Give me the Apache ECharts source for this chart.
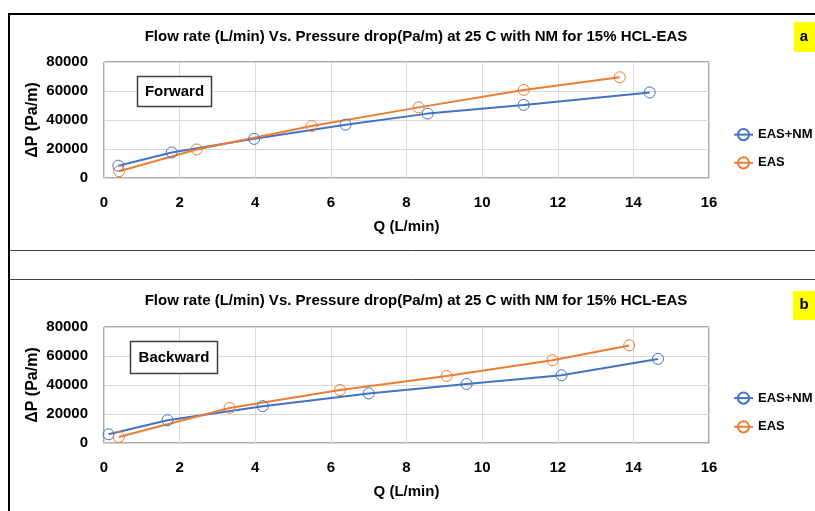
<!DOCTYPE html>
<html>
<head>
<meta charset="utf-8">
<script src="https://cdn.jsdelivr.net/npm/echarts@6/dist/echarts.min.js"></script>
<style>html,body{margin:0;padding:0;background:#fff}#c{width:815px;height:511px}</style>
</head>
<body>
<div id="c"></div>
<script>
// Forward (a)
const fwdNM_Q = [0.38, 1.79, 3.97, 6.39, 8.56, 11.1, 14.43];
const fwdNM_P = [8500, 17600, 27000, 36800, 44400, 50400, 59000];
const fwdEAS_Q = [0.4, 2.45, 5.49, 8.32, 11.1, 13.64];
const fwdEAS_P = [4700, 19700, 35800, 48700, 60700, 69500];
// Backward (b)
const bwdNM_Q = [0.12, 1.68, 4.2, 7.0, 9.59, 12.1, 14.65];
const bwdNM_P = [6000, 15700, 25400, 34200, 40700, 46700, 58000];
const bwdEAS_Q = [0.39, 3.32, 6.24, 9.06, 11.86, 13.89];
const bwdEAS_P = [4200, 24200, 36500, 46200, 57100, 67300];

const seriesNames = ['EAS+NM', 'EAS'];
const colors = ['#4472C4', '#ED7D31'];
const titleText = 'Flow rate (L/min) Vs. Pressure drop(Pa/m) at 25 C with NM for 15% HCL-EAS';
const xName = 'Q (L/min)';
const yName = 'ΔP (Pa/m)';
const panelLabels = ['Forward', 'Backward'];
const panelLetters = ['a', 'b'];

const FONT = '"Liberation Sans", Arial, sans-serif';
const zip = (a, b) => a.map((v, i) => [v, b[i]]);

function xAxis(idx) {
  return {
    gridIndex: idx, type: 'value', min: 0, max: 16, interval: 2,
    name: xName, nameLocation: 'middle', nameGap: 41,
    nameTextStyle: { fontFamily: FONT, fontSize: 15, fontWeight: 'bold', color: '#000' },
    axisLine: { show: true, lineStyle: { color: '#d9d9d9', width: 1 } },
    axisTick: { show: false },
    axisLabel: { margin: 17, fontFamily: FONT, fontSize: 15, fontWeight: 'bold', color: '#000' },
    splitLine: { show: true, lineStyle: { color: '#d9d9d9', width: 1 } }
  };
}
function yAxis(idx) {
  return {
    gridIndex: idx, type: 'value', min: 0, max: 80000, interval: 20000,
    name: yName, nameLocation: 'middle', nameGap: 63, nameMoveOverlap: false,
    nameTextStyle: { fontFamily: FONT, fontSize: 16, fontWeight: 'bold', color: '#000' },
    axisLine: { show: true, lineStyle: { color: '#d9d9d9', width: 1 } },
    axisTick: { show: false },
    axisLabel: { margin: 16, fontFamily: FONT, fontSize: 15, fontWeight: 'bold', color: '#000', formatter: v => String(v) },
    splitLine: { show: true, lineStyle: { color: '#d9d9d9', width: 1 } }
  };
}
function ser(name, idx, data, color) {
  return {
    name, type: 'line', xAxisIndex: idx, yAxisIndex: idx, data,
    symbol: 'circle', symbolSize: 11, showAllSymbol: true,
    lineStyle: { color, width: 2 },
    itemStyle: { color: 'rgba(255,255,255,0)', borderColor: color, borderWidth: 1 },
    animation: false
  };
}
function legend(top, gap) {
  return {
    orient: 'vertical', left: 733, top, padding: 0, itemWidth: 19, itemHeight: 14, itemGap: gap,
    data: seriesNames, selectedMode: false,
    textStyle: { fontFamily: FONT, fontSize: 13, fontWeight: 'bold', color: '#000' }
  };
}

const option = {
  backgroundColor: '#fff',
  animation: false,
  color: colors,
  title: [
    { text: titleText, left: 416, top: 29, textAlign: 'center', padding: 0,
      textStyle: { fontFamily: FONT, fontSize: 15, fontWeight: 'bold', color: '#000' } },
    { text: titleText, left: 416, top: 293, textAlign: 'center', padding: 0,
      textStyle: { fontFamily: FONT, fontSize: 15, fontWeight: 'bold', color: '#000' } }
  ],
  grid: [
    { left: 104, top: 62, width: 605, height: 116, show: true, borderColor: '#595959', borderWidth: 1, backgroundColor: 'transparent' },
    { left: 104, top: 327, width: 605, height: 116, show: true, borderColor: '#595959', borderWidth: 1, backgroundColor: 'transparent' }
  ],
  xAxis: [xAxis(0), xAxis(1)],
  yAxis: [yAxis(0), yAxis(1)],
  legend: [legend(128, 15), legend(391.5, 15.5)],
  series: [
    ser(seriesNames[0], 0, zip(fwdNM_Q, fwdNM_P), colors[0]),
    ser(seriesNames[1], 0, zip(fwdEAS_Q, fwdEAS_P), colors[1]),
    ser(seriesNames[0], 1, zip(bwdNM_Q, bwdNM_P), colors[0]),
    ser(seriesNames[1], 1, zip(bwdEAS_Q, bwdEAS_P), colors[1])
  ],
  graphic: [
    // outer frame lines
    { type: 'line', z: 100, shape: { x1: 9, y1: 14, x2: 815, y2: 14 }, style: { stroke: '#000', lineWidth: 2 } },
    { type: 'line', z: 100, shape: { x1: 9, y1: 13, x2: 9, y2: 511 }, style: { stroke: '#000', lineWidth: 2 } },
    { type: 'line', z: 100, shape: { x1: 10, y1: 250.5, x2: 815, y2: 250.5 }, style: { stroke: '#404040', lineWidth: 1 } },
    { type: 'line', z: 100, shape: { x1: 10, y1: 279.5, x2: 815, y2: 279.5 }, style: { stroke: '#404040', lineWidth: 1 } },
    // panel letters
    { type: 'rect', z: 100, shape: { x: 794, y: 22, width: 21, height: 30 }, style: { fill: '#ffff00' } },
    { type: 'text', z: 101, x: 804, y: 37, style: { text: panelLetters[0], fontFamily: FONT, fontSize: 15, fontWeight: 'bold', fill: '#000', align: 'center', verticalAlign: 'middle' } },
    { type: 'rect', z: 100, shape: { x: 793, y: 291, width: 22, height: 29 }, style: { fill: '#ffff00' } },
    { type: 'text', z: 101, x: 804, y: 305, style: { text: panelLetters[1], fontFamily: FONT, fontSize: 15, fontWeight: 'bold', fill: '#000', align: 'center', verticalAlign: 'middle' } },
    // panel label boxes
    { type: 'rect', z: 100, shape: { x: 137.5, y: 76.5, width: 74, height: 30 }, style: { fill: '#fff', stroke: '#404040', lineWidth: 1.5 } },
    { type: 'text', z: 101, x: 174.5, y: 92, style: { text: panelLabels[0], fontFamily: FONT, fontSize: 15, fontWeight: 'bold', fill: '#000', align: 'center', verticalAlign: 'middle' } },
    { type: 'rect', z: 100, shape: { x: 130.5, y: 341.5, width: 87, height: 32 }, style: { fill: '#fff', stroke: '#404040', lineWidth: 1.5 } },
    { type: 'text', z: 101, x: 174, y: 358, style: { text: panelLabels[1], fontFamily: FONT, fontSize: 15, fontWeight: 'bold', fill: '#000', align: 'center', verticalAlign: 'middle' } }
  ]
};
const chart = echarts.init(document.getElementById('c'), null, { renderer: 'canvas' });
chart.setOption(option);
</script>
</body>
</html>
